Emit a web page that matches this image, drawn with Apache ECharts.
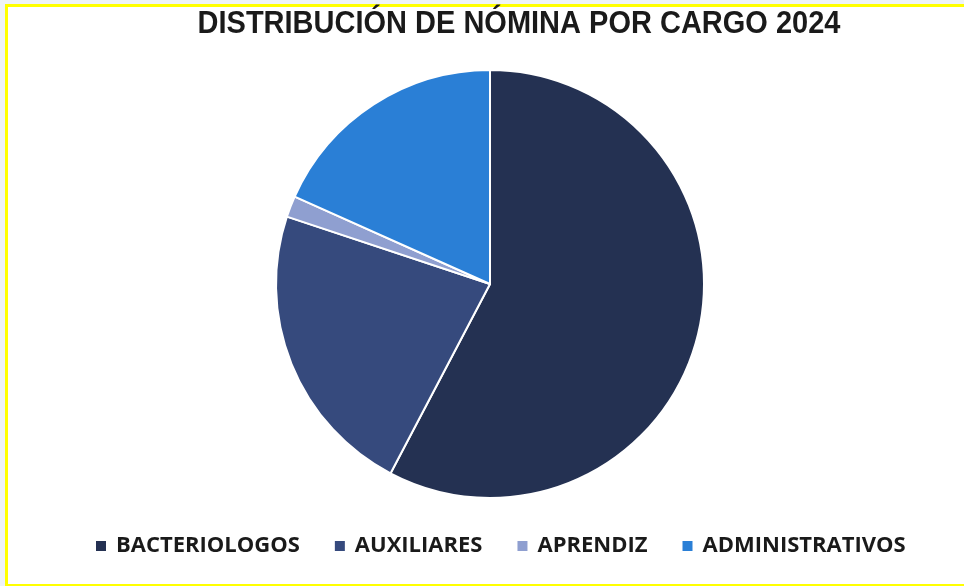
<!DOCTYPE html>
<html>
<head>
<meta charset="utf-8">
<script src="https://cdn.jsdelivr.net/npm/echarts@6/dist/echarts.min.js"></script>
<style>
	html, body { margin: 0; padding: 0; background: #eef3f6; }
	#frame {
		position: absolute; left: 5px; top: 4px; width: 975px; height: 577px;
		background: #fff; border-top: 3px solid #ffff00; border-left: 3px solid #ffff00;
		border-bottom: 2px solid #ffff00;
	}
	#main { position: absolute; left: 0; top: 0; width: 964px; height: 586px; }
</style>
</head>
<body>
<div id="frame"></div>
<div id="main"></div>
<script>
var cargos = ['BACTERIOLOGOS', 'AUXILIARES', 'APRENDIZ', 'ADMINISTRATIVOS']
var valores = [57.7, 22.4, 1.6, 18.3]
var colores = ['#243152', '#364a7d', '#8f9fd0', '#2a7fd6']

var chart = echarts.init(document.getElementById('main'))

chart.setOption({
	graphic: [{
		type: 'text',
		x: 519, y: 25,
		scaleY: 1.06,
		style: {
			text: 'DISTRIBUCIÓN DE NÓMINA POR CARGO 2024',
			align: 'center', verticalAlign: 'middle',
			font: 'bold 29px "Liberation Sans"', fill: '#1a1a1a'
		}
	}],
	legend: {
		top: 530, left: 89,
		itemWidth: 12, itemHeight: 12, itemGap: 33, icon: 'rect',
		textStyle: { fontFamily: 'Open Sans', fontWeight: 'bold', fontSize: 22, color: '#1a1a1a', padding: [0, 0, 0, 4] },
		data: cargos
	},
	series: [{
		type: 'pie',
		center: [490, 284],
		radius: 214,
		startAngle: 90,
		label: { show: false },
		labelLine: { show: false },
		emphasis: { disabled: true },
		itemStyle: { borderColor: '#fff', borderWidth: 2 },
		data: cargos.map(function(c, i){
			return { name: c, value: valores[i], itemStyle: { color: colores[i] } }
		})
	}]
})
</script>
</body>
</html>
